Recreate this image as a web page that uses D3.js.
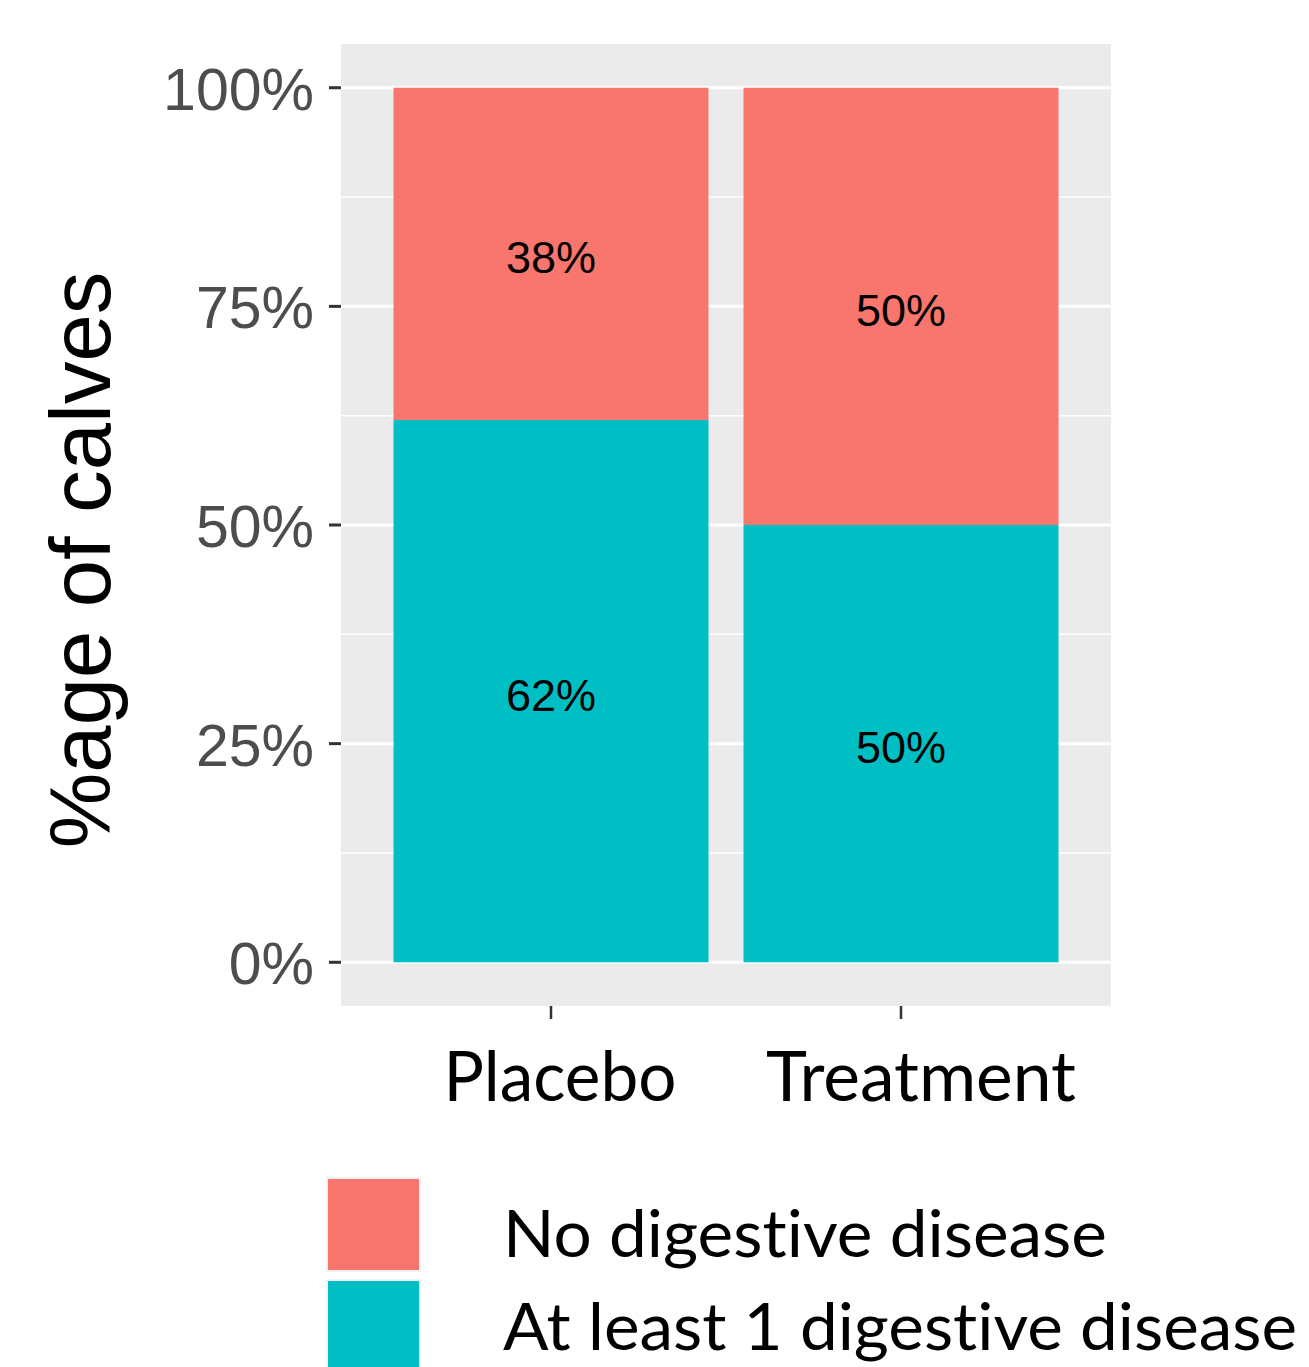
<!DOCTYPE html>
<html>
<head>
<meta charset="utf-8">
<script src="https://cdn.jsdelivr.net/npm/d3@7"></script>
<style>
  html, body { margin: 0; padding: 0; background: #ffffff; }
  svg { display: block; }
  text { font-variant-ligatures: none; font-feature-settings: "liga" 0, "clig" 0; }
</style>
</head>
<body>
<svg id="chart" width="1309" height="1367"></svg>
<script>
// Groups on the x axis
const groups = ["Placebo", "Treatment"];
// Outcome categories, stacked bottom to top
const outcomes = ["At least 1 digestive disease", "No digestive disease"];
// Share of calves per group (fractions)
const atLeastOne = [0.62, 0.50];
const noDisease  = [0.38, 0.50];
// Legend order (top to bottom)
const legendOrder = ["No digestive disease", "At least 1 digestive disease"];
// Y axis ticks
const yTicks = [0, 0.25, 0.5, 0.75, 1];
const yMinor = [0.125, 0.375, 0.625, 0.875];

const colors = d3.scaleOrdinal()
  .domain(["No digestive disease", "At least 1 digestive disease"])
  .range(["#F8766D", "#00BFC4"]);

const svg = d3.select("#chart");

// Panel geometry
const panel = { left: 341, right: 1111, top: 44, bottom: 1006 };

// Discrete x positions laid on a continuous range with 0.6 padding each side
const xPos = d3.scaleLinear()
  .domain([0.4, groups.length + 0.6])
  .range([panel.left, panel.right]);
const x = g => xPos(groups.indexOf(g) + 1);
const barWidth = xPos(1.9) - xPos(1.0); // 0.9 of a unit

// Y scale with 5% expansion on both ends
const y = d3.scaleLinear()
  .domain([-0.05, 1.05])
  .range([panel.bottom, panel.top]);

// Panel background
svg.append("rect")
  .attr("x", panel.left).attr("y", panel.top)
  .attr("width", panel.right - panel.left)
  .attr("height", panel.bottom - panel.top)
  .attr("fill", "#EBEBEB");

// Grid lines
svg.append("g").selectAll("line").data(yMinor).join("line")
  .attr("x1", panel.left).attr("x2", panel.right)
  .attr("y1", d => y(d)).attr("y2", d => y(d))
  .attr("stroke", "#ffffff").attr("stroke-width", 1.6);
svg.append("g").selectAll("line").data(yTicks).join("line")
  .attr("x1", panel.left).attr("x2", panel.right)
  .attr("y1", d => y(d)).attr("y2", d => y(d))
  .attr("stroke", "#ffffff").attr("stroke-width", 3);

// Stacked data
const rows = groups.map((g, i) => ({
  group: g,
  "At least 1 digestive disease": atLeastOne[i],
  "No digestive disease": noDisease[i]
}));
const stacked = d3.stack().keys(outcomes)(rows);

const layers = svg.append("g").selectAll("g").data(stacked).join("g")
  .attr("fill", d => colors(d.key));

layers.selectAll("rect").data(d => d).join("rect")
  .attr("x", d => x(d.data.group) - barWidth / 2)
  .attr("width", barWidth)
  .attr("y", d => y(d[1]))
  .attr("height", d => y(d[0]) - y(d[1]));

// Percentage labels centred in each segment
layers.selectAll("text").data(d => d).join("text")
  .attr("x", d => x(d.data.group))
  .attr("y", d => y((d[0] + d[1]) / 2) + 4)
  .attr("text-anchor", "middle")
  .attr("dominant-baseline", "central")
  .attr("fill", "#000000")
  .style("font-family", "'Liberation Sans', Arial, sans-serif")
  .style("font-size", "45px")
  .text(d => d3.format(".0%")(d[1] - d[0]));

// Y axis ticks and labels
const yAxis = svg.append("g");
yAxis.selectAll("line").data(yTicks).join("line")
  .attr("x1", panel.left - 12).attr("x2", panel.left)
  .attr("y1", d => y(d)).attr("y2", d => y(d))
  .attr("stroke", "#333333").attr("stroke-width", 3);
yAxis.selectAll("text").data(yTicks).join("text")
  .attr("x", panel.left - 27)
  .attr("y", d => y(d) + 2)
  .attr("text-anchor", "end")
  .attr("dominant-baseline", "central")
  .attr("fill", "#4D4D4D")
  .style("font-family", "'Liberation Sans', Arial, sans-serif")
  .style("font-size", "59px")
  .text(d => d3.format(".0%")(d));

// Y axis title
svg.append("text")
  .attr("transform", `translate(110, ${(y(0) + y(1)) / 2 + 35}) rotate(-90)`)
  .attr("text-anchor", "middle")
  .attr("fill", "#000000")
  .style("font-family", "'Liberation Sans', Arial, sans-serif")
  .style("font-size", "85px")
  .text("%age of calves");

// X axis ticks and labels
const xAxis = svg.append("g");
xAxis.selectAll("line").data(groups).join("line")
  .attr("x1", d => x(d)).attr("x2", d => x(d))
  .attr("y1", panel.bottom).attr("y2", panel.bottom + 13)
  .attr("stroke", "#333333").attr("stroke-width", 2.5);
const xLabelWidths = { "Placebo": 233, "Treatment": 310 };
const xLabelShift = { "Placebo": 9, "Treatment": 20 };
xAxis.selectAll("text").data(groups).join("text")
  .attr("x", d => x(d) + xLabelShift[d])
  .attr("y", 1101)
  .attr("text-anchor", "middle")
  .attr("fill", "#000000")
  .attr("textLength", d => xLabelWidths[d])
  .attr("lengthAdjust", "spacingAndGlyphs")
  .style("font-family", "Lato, 'Open Sans', sans-serif")
  .style("font-size", "70px")
  .text(d => d);

// Legend
const legend = svg.append("g").attr("transform", "translate(327, 1178)");
const keySize = 93, keyStep = 102;
const legendWidths = { "No digestive disease": 604, "At least 1 digestive disease": 794 };
const items = legend.selectAll("g").data(legendOrder).join("g")
  .attr("transform", (d, i) => `translate(0, ${i * keyStep})`);
items.append("rect")
  .attr("width", keySize).attr("height", keySize)
  .attr("fill", d => colors(d))
  .attr("stroke", "#F2F2F2").attr("stroke-width", 2);
items.append("text")
  .attr("x", 176)
  .attr("y", (d, i) => 79 - i * 9)
  .attr("fill", "#000000")
  .attr("textLength", d => legendWidths[d])
  .attr("lengthAdjust", "spacingAndGlyphs")
  .style("font-family", "Lato, 'Open Sans', sans-serif")
  .style("font-size", "66px")
  .text(d => d);
</script>
</body>
</html>
